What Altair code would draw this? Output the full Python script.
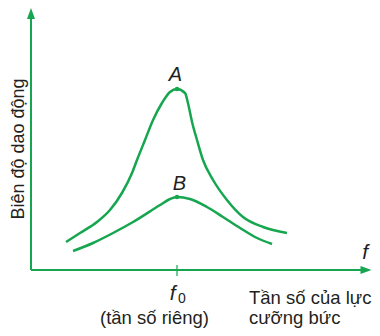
import altair as alt
import pandas as pd

GREEN = "#16a64f"
INK = "#231f20"
FONT = "Liberation Sans"

# Curve A (small damping): frequency (in units of f0) and amplitude (arbitrary units)
freq_a = [0.240, 0.336, 0.452, 0.541, 0.623, 0.692, 0.726, 0.781, 0.836, 0.897, 0.952,
          1.000, 1.055, 1.075, 1.103, 1.137, 1.178, 1.247, 1.342, 1.452, 1.589, 1.753]
amp_a = [1.40, 1.85, 2.40, 3.00, 3.85, 4.85, 5.50, 6.50, 7.50, 8.35, 8.90,
         9.05, 8.85, 8.35, 7.40, 6.50, 5.50, 4.50, 3.50, 2.65, 2.15, 1.85]

# Curve B (large damping)
freq_b = [0.288, 0.425, 0.562, 0.699, 0.884, 0.952, 1.000, 1.089, 1.205, 1.315,
          1.432, 1.548, 1.651]
amp_b = [0.95, 1.35, 1.85, 2.40, 3.25, 3.55, 3.65, 3.55, 3.15, 2.65,
         2.10, 1.60, 1.30]

peak_names = ["A", "B"]
peak_freq = [1.0, 1.0]
peak_amp = [9.05, 3.65]

X_DOMAIN = [-0.1575, 2.3356]
Y_DOMAIN = [-2.9, 13.1]
xs = alt.Scale(domain=X_DOMAIN, nice=False, zero=False)
ys = alt.Scale(domain=Y_DOMAIN, nice=False, zero=False)


def X(field):
    return alt.X(field, type="quantitative", scale=xs, axis=None)


def Y(field):
    return alt.Y(field, type="quantitative", scale=ys, axis=None)


curves = pd.DataFrame({
    "f": freq_a + freq_b,
    "amp": amp_a + amp_b,
    "curve": ["A"] * len(freq_a) + ["B"] * len(freq_b),
})

lines = alt.Chart(curves).mark_line(
    color=GREEN, strokeWidth=2.5, interpolate="monotone"
).encode(x=X("f"), y=Y("amp"), detail="curve:N")

peaks_df = pd.DataFrame({"name": peak_names, "f": peak_freq, "amp": peak_amp})
peaks = alt.Chart(peaks_df).mark_point(
    filled=True, color=GREEN, size=20, opacity=1
).encode(x=X("f"), y=Y("amp"))

# Axes drawn as arrows
axes_df = pd.DataFrame({"x": [0, 0], "y": [0, 0], "x2": [0, 2.27], "y2": [12.6, 0]})
axes = alt.Chart(axes_df).mark_rule(color=GREEN, strokeWidth=2).encode(
    x=X("x"), y=Y("y"), x2="x2:Q", y2="y2:Q"
)
tick_df = pd.DataFrame({"x": [1.0], "y": [0.25], "y2": [-0.3]})
tick = alt.Chart(tick_df).mark_rule(color=GREEN, strokeWidth=1.2).encode(
    x=X("x"), y=Y("y"), y2="y2:Q"
)
up_df = pd.DataFrame({"x": [0], "y": [12.825]})
up = alt.Chart(up_df).mark_point(
    shape="M0,-1L0.73,1L-0.73,1Z", filled=True, color=GREEN, size=121, opacity=1
).encode(x=X("x"), y=Y("y"))
right_df = pd.DataFrame({"x": [2.2945], "y": [0]})
right = alt.Chart(right_df).mark_point(
    shape="M1,0L-1,-0.73L-1,0.73Z", filled=True, color=GREEN, size=121, opacity=1
).encode(x=X("x"), y=Y("y"))

# Labels
lab_df = pd.DataFrame({"text": ["A", "B"], "f": [0.990, 1.017], "amp": [9.45, 4.0]})
peak_labels = alt.Chart(lab_df).mark_text(
    font=FONT, fontSize=20, fontStyle="italic", color=INK, baseline="alphabetic"
).encode(x=X("f"), y=Y("amp"), text="text:N")

f_df = pd.DataFrame({"text": ["f"], "f": [2.288], "amp": [0.55]})
f_label = alt.Chart(f_df).mark_text(
    font=FONT, fontSize=21, fontStyle="italic", color=INK, baseline="alphabetic"
).encode(x=X("f"), y=Y("amp"), text="text:N")

f0_df = pd.DataFrame({"text": ["f"], "f": [0.970], "amp": [-1.5]})
f0_main = alt.Chart(f0_df).mark_text(
    font=FONT, fontSize=21, fontStyle="italic", color=INK, baseline="alphabetic"
).encode(x=X("f"), y=Y("amp"), text="text:N")
f0_sub_df = pd.DataFrame({"text": ["0"], "f": [1.034], "amp": [-1.65]})
f0_sub = alt.Chart(f0_sub_df).mark_text(
    font=FONT, fontSize=14, color=INK, baseline="alphabetic"
).encode(x=X("f"), y=Y("amp"), text="text:N")

own_df = pd.DataFrame({"text": ["(tần số riêng)"], "f": [0.846], "amp": [-2.7]})
own = alt.Chart(own_df).mark_text(
    font=FONT, fontSize=18.5, color=INK, baseline="alphabetic"
).encode(x=X("f"), y=Y("amp"), text="text:N")

xt_df = pd.DataFrame({"text": ["Tần số của lực", "cưỡng bức"],
                      "f": [1.493, 1.493], "amp": [-1.7, -2.7]})
x_title = alt.Chart(xt_df).mark_text(
    font=FONT, fontSize=18.5, color=INK, baseline="alphabetic", align="left"
).encode(x=X("f"), y=Y("amp"), text="text:N")

yt_df = pd.DataFrame({"text": ["Biên độ dao động"], "f": [-0.048], "amp": [6.05]})
y_title = alt.Chart(yt_df).mark_text(
    font=FONT, fontSize=18, color=INK, baseline="alphabetic", angle=270
).encode(x=X("f"), y=Y("amp"), text="text:N")

chart = alt.layer(
    axes, tick, up, right, lines, peaks, peak_labels, f_label,
    f0_main, f0_sub, own, x_title, y_title
).properties(
    width=364, height=320, autosize="none", padding=0, background="white"
).configure_view(stroke=None)

chart.save("out.html", embed_options={"renderer": "svg", "actions": False})
